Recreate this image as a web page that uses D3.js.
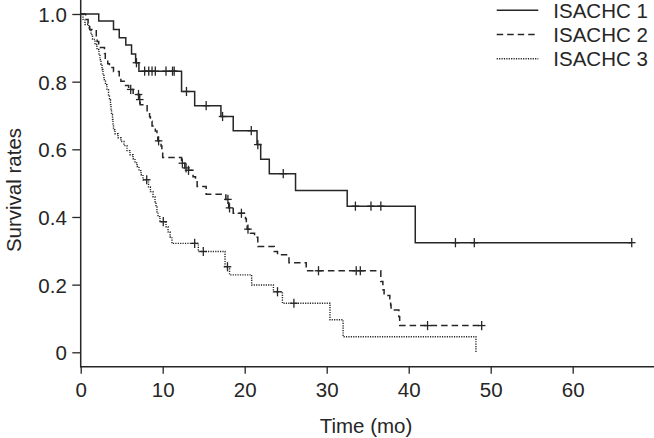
<!DOCTYPE html>
<html><head><meta charset="utf-8">
<script src="https://cdn.jsdelivr.net/npm/d3@7"></script>
<style>
html,body{margin:0;padding:0;background:#fff;}
svg{display:block;font-family:"Liberation Sans",Arial,Helvetica,sans-serif;}
</style></head>
<body>
<svg id="chart" width="654" height="438"></svg>
<script>
// ---- data ----
const seriesNames = ["ISACHC 1", "ISACHC 2", "ISACHC 3"];
const xTickValues = [0, 10, 20, 30, 40, 50, 60];
const yTickValues = [0, 0.2, 0.4, 0.6, 0.8, 1.0];
const yTickLabels = ["0", "0.2", "0.4", "0.6", "0.8", "1.0"];
const xTitle = "Time (mo)";
const yTitle = "Survival rates";

const s1Times = [2.2, 4.0, 4.7, 5.5, 6.2, 6.7, 7.1, 12.3, 13.9, 17.1, 18.6, 21.5, 21.95, 23.0, 26.2, 32.5, 40.8];
const s1Surv  = [0.979, 0.954, 0.930, 0.908, 0.882, 0.856, 0.831, 0.771, 0.729, 0.697, 0.655, 0.614, 0.571, 0.528, 0.478, 0.432, 0.324];
const s1Censor = [6.8, 7.8, 8.3, 8.7, 9.1, 10.4, 11.2, 11.4, 12.9, 15.3, 17.3, 20.8, 21.6, 24.7, 33.5, 35.4, 36.6, 45.7, 48.0, 67.2];
const s1End = 67.2;

const s2Times = [0.6, 0.9, 1.1, 1.9, 2.0, 2.2, 2.9, 3.0, 3.3, 3.5, 4.0, 4.7, 4.9, 5.3, 5.85, 6.4, 7.15, 7.25, 8.1, 8.4, 8.5, 8.7, 9.1, 9.3, 9.4, 9.8, 9.9, 10.0, 12.3, 12.7, 13.0, 13.7, 14.0, 14.2, 15.3, 17.7, 18.05, 18.6, 20.1, 20.2, 20.3, 20.7, 21.2, 21.6, 23.6, 24.0, 25.4, 27.5, 36.6, 36.85, 37.0, 37.7, 37.8, 37.85, 38.8, 38.9];
const s2Surv  = [0.984, 0.972, 0.954, 0.936, 0.919, 0.901, 0.883, 0.865, 0.853, 0.842, 0.830, 0.815, 0.801, 0.789, 0.777, 0.762, 0.747, 0.732, 0.711, 0.696, 0.683, 0.669, 0.654, 0.639, 0.625, 0.610, 0.595, 0.576, 0.559, 0.545, 0.538, 0.519, 0.508, 0.490, 0.467, 0.452, 0.427, 0.411, 0.395, 0.375, 0.364, 0.352, 0.340, 0.313, 0.298, 0.288, 0.265, 0.241, 0.209, 0.185, 0.168, 0.158, 0.140, 0.125, 0.105, 0.079];
const s2Censor = [6.1, 7.05, 7.2, 9.5, 12.4, 12.85, 13.15, 17.95, 18.15, 19.6, 20.4, 29.0, 33.6, 34.1, 42.3, 48.9];
const s2End = 48.9;

const s3Times = [0.28, 0.52, 1.0, 1.26, 1.44, 1.74, 1.99, 2.23, 2.35, 2.48, 2.6, 2.72, 2.84, 3.02, 3.2, 3.39, 3.51, 3.63, 3.7, 3.76, 3.88, 3.94, 4.0, 4.18, 4.55, 4.91, 5.28, 5.65, 6.01, 6.38, 6.62, 6.87, 7.11, 7.36, 7.6, 8.27, 8.5, 8.82, 9.06, 9.18, 9.3, 9.43, 9.67, 10.4, 10.65, 10.9, 11.13, 14.34, 17.6, 18.15, 20.85, 23.5, 24.6, 30.4, 32.0, 48.2];
const s3Surv  = [0.984, 0.969, 0.954, 0.939, 0.925, 0.910, 0.895, 0.880, 0.865, 0.851, 0.836, 0.821, 0.806, 0.791, 0.776, 0.761, 0.747, 0.732, 0.717, 0.703, 0.688, 0.673, 0.658, 0.646, 0.634, 0.623, 0.611, 0.596, 0.584, 0.572, 0.560, 0.549, 0.537, 0.525, 0.510, 0.489, 0.475, 0.460, 0.445, 0.430, 0.415, 0.401, 0.386, 0.371, 0.356, 0.341, 0.322, 0.298, 0.253, 0.229, 0.199, 0.179, 0.145, 0.096, 0.046, 0.0];
const s3Censor = [8.05, 10.07, 13.9, 14.95, 17.9, 24.0, 26.0];
const s3End = 48.2;

// ---- layout ----
const ink = "#262626";
const fontSize = "20.5px";
const svg = d3.select("#chart");
const x = d3.scaleLinear().domain([0, 70]).range([80.7, 654.7]);
const y = d3.scaleLinear().domain([0, 1]).range([352.3, 14]);
const plotBottom = 366.7, plotTop = 0;

const styles = [
  {dash: null, width: 1.5},
  {dash: "6.5,4", width: 1.5},
  {dash: "1.2,1.2", width: 1.4}
];

const series = [
  {times: s1Times, surv: s1Surv, censor: s1Censor, end: s1End},
  {times: s2Times, surv: s2Surv, censor: s2Censor, end: s2End},
  {times: s3Times, surv: s3Surv, censor: s3Censor, end: s3End}
];

function stepValue(s, t) {
  let v = 1;
  for (let i = 0; i < s.times.length; i++) if (s.times[i] <= t) v = s.surv[i];
  return v;
}

// axes
const yAxis = d3.axisLeft(y).tickValues(yTickValues)
  .tickFormat((d, i) => yTickLabels[i]).tickSize(8.4).tickPadding(5.5);
const gy = svg.append("g").attr("transform", "translate(80.7,0)").call(yAxis);
gy.select(".domain").remove();
gy.selectAll(".tick line").attr("stroke", ink).attr("stroke-width", 1.3);
gy.selectAll(".tick text").attr("fill", ink).style("font-size", fontSize).attr("dy", "0.36em");

const xAxis = d3.axisBottom(x).tickValues(xTickValues.concat([70])).tickFormat(d => d === 70 ? "" : d)
  .tickSize(7).tickPadding(9);
const gx = svg.append("g").attr("transform", `translate(0,${plotBottom})`).call(xAxis);
gx.select(".domain").remove();
gx.selectAll(".tick line").attr("stroke", ink).attr("stroke-width", 1.3);
gx.selectAll(".tick text").attr("fill", ink).style("font-size", fontSize);

svg.append("line").attr("x1", x(0)).attr("x2", x(0)).attr("y1", plotTop).attr("y2", plotBottom + 0.7)
  .attr("stroke", ink).attr("stroke-width", 1.5);
svg.append("line").attr("x1", x(0)).attr("x2", x(70)).attr("y1", plotBottom).attr("y2", plotBottom)
  .attr("stroke", ink).attr("stroke-width", 1.5);

// titles
svg.append("text").attr("x", 366).attr("y", 433).attr("text-anchor", "middle")
  .attr("fill", ink).style("font-size", fontSize).text(xTitle);
svg.append("text").attr("transform", "translate(21,190) rotate(-90)").attr("text-anchor", "middle")
  .attr("fill", ink).style("font-size", fontSize).text(yTitle);

// curves
const line = d3.line().x(d => x(d[0])).y(d => y(d[1])).curve(d3.curveStepAfter);
series.forEach((s, k) => {
  const pts = [[0, 1]];
  s.times.forEach((t, i) => pts.push([t, s.surv[i]]));
  if (s.end > s.times[s.times.length - 1]) pts.push([s.end, s.surv[s.surv.length - 1]]);
  svg.append("path").attr("d", line(pts)).attr("fill", "none")
    .attr("stroke", ink).attr("stroke-width", styles[k].width)
    .attr("stroke-dasharray", styles[k].dash);
  const g = svg.append("g");
  s.censor.forEach(t => {
    const cx = x(t), cy = y(stepValue(s, t));
    g.append("line").attr("x1", cx).attr("x2", cx).attr("y1", cy - 4.6).attr("y2", cy + 4.6)
      .attr("stroke", ink).attr("stroke-width", 1.3);
    g.append("line").attr("x1", cx - 3.8).attr("x2", cx + 3.8).attr("y1", cy).attr("y2", cy)
      .attr("stroke", ink).attr("stroke-width", 1.3);
  });
});

// legend
const legY = [10.3, 34.5, 58.7];
seriesNames.forEach((name, k) => {
  svg.append("line").attr("x1", 496.7).attr("x2", 538.3).attr("y1", legY[k]).attr("y2", legY[k])
    .attr("stroke", ink).attr("stroke-width", styles[k].width).attr("stroke-dasharray", styles[k].dash);
  svg.append("text").attr("x", 553.3).attr("y", legY[k]).attr("dy", "0.36em")
    .attr("fill", ink).style("font-size", fontSize).text(name);
});
</script>
</body></html>
